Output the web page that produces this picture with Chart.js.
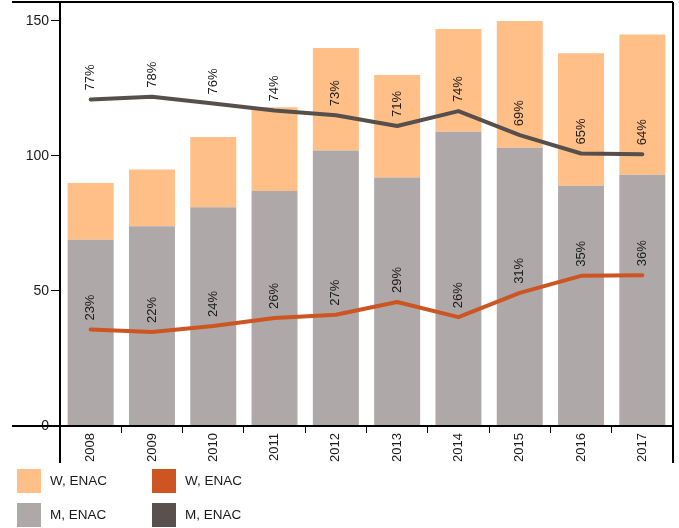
<!DOCTYPE html>
<html>
<head>
<meta charset="utf-8">
<script src="https://cdn.jsdelivr.net/npm/chart.js@4/dist/chart.umd.min.js"></script>
<style>
  html, body { margin: 0; padding: 0; background: #fff; }
  #wrap { width: 679px; height: 528px; position: relative; }
</style>
</head>
<body>
<div id="wrap"><canvas id="enacChart" width="679" height="528"></canvas></div>
<script>
// chart data
const years = ['2008', '2009', '2010', '2011', '2012', '2013', '2014', '2015', '2016', '2017'];
const menBars = [69, 74, 81, 87, 102, 92, 109, 103, 89, 93];
const womenBars = [21, 21, 26, 31, 38, 38, 38, 47, 49, 52];
const womenLine = [35.7, 34.8, 37, 40, 41.2, 45.9, 40.3, 49.3, 55.6, 55.8];
const menLine = [120.9, 121.9, 119.4, 116.8, 115.1, 111.1, 116.6, 107.7, 100.9, 100.6];
const womenPct = ['23%', '22%', '24%', '26%', '27%', '29%', '26%', '31%', '35%', '36%'];
const menPct = ['77%', '78%', '76%', '74%', '73%', '71%', '74%', '69%', '65%', '64%'];
const yTicks = [0, 50, 100, 150];

const FONT = '"Liberation Sans", Arial, sans-serif';

// rotated % labels above the line points
const pctLabels = {
    id: 'pctLabels',
    afterDatasetsDraw(chart) {
        const ctx = chart.ctx;
        chart.data.datasets.forEach((ds, i) => {
            if (!ds.pct) return;
            const meta = chart.getDatasetMeta(i);
            meta.data.forEach((pt, j) => {
                ctx.save();
                ctx.translate(pt.x, pt.y - 9);
                ctx.rotate(-Math.PI / 2);
                ctx.font = '13px ' + FONT;
                ctx.fillStyle = '#1a1a1a';
                ctx.textAlign = 'left';
                ctx.textBaseline = 'middle';
                ctx.fillText(ds.pct[j], 0, 0);
                ctx.restore();
            });
        });
    }
};

// frame lines and the legend block
const frame = {
    id: 'frame',
    afterDraw(chart) {
        const ctx = chart.ctx;
        const a = chart.chartArea;
        ctx.save();
        ctx.strokeStyle = '#000';
        ctx.lineWidth = 2;
        ctx.beginPath();
        ctx.moveTo(12, a.top); ctx.lineTo(a.right, a.top);
        ctx.moveTo(12, a.bottom); ctx.lineTo(a.right, a.bottom);
        ctx.moveTo(a.left, a.top); ctx.lineTo(a.left, 463);
        ctx.moveTo(a.right, a.top); ctx.lineTo(a.right, 463);
        ctx.stroke();

        const items = [
            { ds: 1, x: 17, y: 469 },
            { ds: 2, x: 152, y: 469 },
            { ds: 0, x: 17, y: 503 },
            { ds: 3, x: 152, y: 503 }
        ];
        ctx.font = '13.5px ' + FONT;
        ctx.textBaseline = 'middle';
        ctx.textAlign = 'left';
        items.forEach(it => {
            const ds = chart.data.datasets[it.ds];
            ctx.fillStyle = ds.legendColor;
            ctx.fillRect(it.x, it.y, 24, 24);
            ctx.fillStyle = '#1a1a1a';
            ctx.fillText(ds.label, it.x + 33, it.y + 12);
        });
        ctx.restore();
    }
};

const chartConfig = {
    data: {
        labels: years,
        datasets: [
            {
                type: 'bar', label: 'M, ENAC', data: menBars,
                backgroundColor: '#aea8a8', legendColor: '#aea8a8',
                order: 2, stack: 'bars',
                categoryPercentage: 0.75, barPercentage: 1
            },
            {
                type: 'bar', label: 'W, ENAC', data: womenBars,
                backgroundColor: '#ffbf87', legendColor: '#ffbf87',
                order: 2, stack: 'bars',
                categoryPercentage: 0.75, barPercentage: 1
            },
            {
                type: 'line', label: 'W, ENAC', data: womenLine, pct: womenPct,
                borderColor: '#cc5522', legendColor: '#cc5522',
                borderWidth: 4, pointRadius: 0, tension: 0,
                borderCapStyle: 'round', borderJoinStyle: 'round',
                order: 0, stack: 'lineW'
            },
            {
                type: 'line', label: 'M, ENAC', data: menLine, pct: menPct,
                borderColor: '#574f4c', legendColor: '#5a504d',
                borderWidth: 4, pointRadius: 0, tension: 0,
                borderCapStyle: 'round', borderJoinStyle: 'round',
                order: 0, stack: 'lineM'
            }
        ]
    },
    options: {
        responsive: false,
        animation: false,
        layout: { padding: { top: 2, right: 6, left: 0, bottom: 0 } },
        plugins: { legend: { display: false }, tooltip: { enabled: false } },
        scales: {
            x: {
                stacked: true,
                border: { display: false },
                grid: { drawOnChartArea: false, offset: true, tickLength: 7, color: '#000', lineWidth: 1 },
                ticks: {
                    minRotation: 90, maxRotation: 90, padding: 0,
                    color: '#1a1a1a', font: { family: FONT, size: 13 }
                },
                afterFit(scale) { scale.height = 102; }
            },
            y: {
                stacked: true,
                min: 0, max: 157,
                border: { display: false },
                grid: { drawOnChartArea: false, tickLength: 9, color: '#000', lineWidth: 1 },
                ticks: {
                    padding: 2, color: '#1a1a1a', font: { family: FONT, size: 14 }
                },
                afterBuildTicks(scale) { scale.ticks = yTicks.map(v => ({ value: v })); },
                afterFit(scale) {
                    scale.width = 60;
                    scale.paddingTop = 0;
                    scale.paddingBottom = 0;
                }
            }
        }
    },
    plugins: [pctLabels, frame]
};

const ctx = document.getElementById('enacChart').getContext('2d');
new Chart(ctx, chartConfig);
</script>
</body>
</html>
